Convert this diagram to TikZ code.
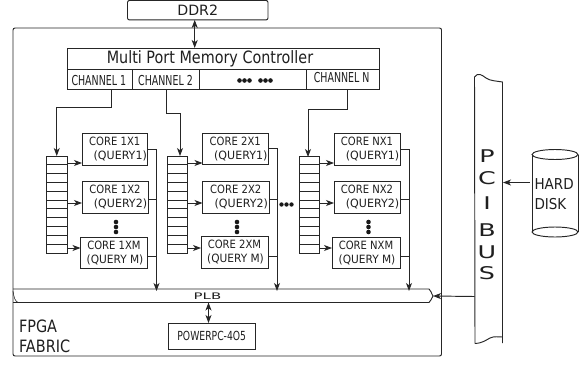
\documentclass[tikz,border=0pt]{standalone}
\usepackage{fontspec}
\setmainfont{DejaVu Sans}
\usetikzlibrary{arrows.meta,calc}
\tikzset{
 x=1pt,y=-1pt,
 every node/.style={inner sep=0pt,outer sep=0pt,text=black!88},
 ln/.style={draw=black!85,line width=0.95pt},
 boxn/.style={ln,minimum width=#1,minimum height=31.5pt,font=\fontsize{11.4}{14}\selectfont,align=center},
 fifo/.style={ln,minimum width=20.5pt,minimum height=97pt},
 conn/.style={ln,-{Stealth[length=8pt,width=6pt,inset=2.2pt]}},
 bi/.style={ln,{Stealth[length=8pt,width=6pt,inset=2.2pt]}-{Stealth[length=8pt,width=6pt,inset=2.2pt]}},
 vdot/.style={fill=black!90,draw=none},
 big/.style={font=\fontsize{17}{18}\selectfont,xscale=.85,transform shape},
 pcil/.style={font=\fontsize{17.5}{20}\selectfont,xscale=1.45,transform shape},
 chtxt/.style={font=\fontsize{13.7}{14}\selectfont,xscale=.69,transform shape},
 hdtxt/.style={font=\fontsize{15}{16}\selectfont,xscale=.9,transform shape,anchor=west},
}
\newcommand{\rowlines}[1]{\foreach \k in {1,...,10}{\draw[ln] ($(#1.north west)+(0,\k*8.818)$) -- ($(#1.north east)+(0,\k*8.818)$);}}
\newcommand{\cx}[1]{\scalebox{.88}[1]{#1}}
\newcommand{\qa}[1]{\hspace{11pt}\scalebox{.97}[1]{#1}}
\newcommand{\qb}[1]{\hspace{2pt}\scalebox{.93}[1]{#1}}
\begin{document}
\begin{tikzpicture}
\useasboundingbox (0,0) rectangle (586,364);
% frame
\node[ln,rounded corners=2pt,minimum width=428.5pt,minimum height=328pt] (fabric) at (227.25,192) {};
\node[ln,rounded corners=2pt,minimum width=140.5pt,minimum height=19.5pt,font=\fontsize{14.2}{15}\selectfont] (ddr) at (197.75,10.2) {DDR2};
% memory controller
\node[ln,minimum width=311.5pt,minimum height=21pt] (mem) at (223.25,58.5) {};
\node[font=\fontsize{17}{18}\selectfont,xscale=.845,transform shape] (memt) at (210,59) {Multi Port Memory Controller};
\node[ln,minimum width=65pt,minimum height=20pt] (ch1) at (100,79) {};
\node[ln,minimum width=67pt,minimum height=20pt] (ch2) at (166,79) {};
\node[ln,minimum width=107pt,minimum height=20pt] (chd) at (253,79) {};
\node[ln,minimum width=72.5pt,minimum height=20pt] (chn) at (342.75,79) {};
\node[chtxt] (ch1t) at (98.8,81) {CHANNEL 1};
\node[chtxt] (ch2t) at (165.5,81) {CHANNEL 2};
\node[chtxt] (chnt) at (341.7,77.5) {CHANNEL N};
\foreach \x in {239.5,244.5,249.5,260.5,265.5,270.5}{\fill[vdot] (\x,80.5) circle (2.3);}
\draw[bi] (ddr.south -| 194.7,0) -- (mem.north -| 194.7,0);
% fifos
\node[fifo] (f1) at (56.75,204.5) {}; \rowlines{f1}
\node[fifo] (f2) at (177.5,204.5) {}; \rowlines{f2}
\node[fifo] (f3) at (309.25,204.5) {}; \rowlines{f3}
% cores
\node[boxn=65.5pt] (c11) at (114.75,149.25) {\cx{CORE 1X1}\\\qa{(QUERY1)}};
\node[boxn=66pt] (c12) at (115,197.25) {\cx{CORE 1X2}\\\qa{(QUERY2)}};
\node[boxn=67pt] (c1m) at (114,252.75) {\cx{CORE 1XM}\\\qb{(QUERY M)}};
\node[boxn=65.5pt] (c21) at (235.25,148.75) {\cx{CORE 2X1}\\\qa{(QUERY1)}};
\node[boxn=66.5pt] (c22) at (235.75,197.25) {\cx{CORE 2X2}\\\qa{(QUERY2)}};
\node[boxn=67pt] (c2m) at (234.5,252.5) {\cx{CORE 2XM}\\\qb{(QUERY M)}};
\node[boxn=66pt] (c31) at (367,149.25) {\cx{CORE NX1}\\\qa{(QUERY1)}};
\node[boxn=66pt] (c32) at (367,197.25) {\cx{CORE NX2}\\\qa{(QUERY2)}};
\node[boxn=68pt] (c3m) at (366,253) {\cx{CORE NXM}\\\qb{(QUERY M)}};
% vertical dots
\foreach \x in {116,237,368.5}{\foreach \y in {222,227,232}{\fill[vdot] (\x,\y) circle (2.3);}}
\foreach \x in {281.5,286.5,291.5}{\fill[vdot] (\x,204.5) circle (2.2);}
% channels to fifos
\draw[conn] (ch1.south -| 111,0) |- (56.75,107) -- (f1.north);
\draw[conn] (ch2.south) |- (180,113.5) -- (180,156);
\draw[conn] (chn.south -| 347,0) |- (308,109) -- (308,157);
% fifos to cores
\foreach \f/\a/\b/\c in {f1/c11/c12/c1m,f2/c21/c22/c2m,f3/c31/c32/c3m}{
 \draw[conn] (\f.east |- 0,163) -- (\a.west |- 0,163);
 \draw[conn] (\f.east |- 0,203) -- (\b.west |- 0,203);
 \draw[conn] (\f.east |- 0,248) -- (\c.west |- 0,248);
}
% PLB
\coordinate (plbL) at (13,289);
\coordinate (plbR) at (429,289);
\coordinate (plbT) at (433,296);
\coordinate (plbB) at (429,302.5);
\coordinate (plbLb) at (13,302.5);
\draw[ln] (plbL) -- (plbR) .. controls (431,290) and (431,293) .. (plbT) .. controls (431,299) and (431,301) .. (plbB) -- (plbLb);
\draw[ln,line width=.6pt] (13,291) .. controls (14,298) and (15,301) .. (18,302.5);
\node[font=\fontsize{9}{10}\selectfont,xscale=1.66,transform shape] (plb) at (207.5,296.7) {PLB};
% core outputs to PLB
\foreach \x/\a/\b/\c in {156.5/c11/c12/c1m,277/c21/c22/c2m,409/c31/c32/c3m}{
 \draw[conn] (\a.east) -| (\x,291);
 \draw[ln] (\b.east |- 0,199) -- (\x,199);
 \draw[ln] (\c.east |- 0,256) -- (\x,256);
}
% PowerPC
\node[ln,minimum width=87.5pt,minimum height=26.5pt,font=\fontsize{12.5}{13}\selectfont] (ppc) at (211.75,336.25) {\scalebox{.74}[1]{POWERPC-4O5}};
\draw[bi] (208.5,302.5) -- (ppc.north -| 208.5,0);
\node[big,anchor=west] (fpga) at (19,326) {FPGA};
\node[big,anchor=west] (fab) at (19,346.5) {FABRIC};
% PCI bus
\coordinate (pciTL) at (474.5,77);
\coordinate (pciTR) at (502.5,82);
\coordinate (pciBL) at (475,343.5);
\coordinate (pciBR) at (502.5,343);
\draw[ln] (pciBL) -- (pciTL) .. controls (478,72) and (482,75) .. (486,78) .. controls (490,81) and (497,81) .. (pciTR) -- (pciBR);
\draw[ln] (pciBL) .. controls (483,343) and (486,340) .. (490,338) .. controls (494,336) and (498,337) .. (502.5,337);
\foreach \t/\y/\n in {P/156/lp,C/178.5/lc,I/203.5/li,B/230/lb,U/252/lu,S/273.5/ls}{\node[pcil] (\n) at (487,\y) {\t};}
\draw[conn] (474.5,296.5) -- (plbT);
% Hard disk
\coordinate (hdT) at (555,154.5);
\coordinate (hdB) at (555,232);
\draw[ln] (532,154.5) -- (532,232);
\draw[ln] (578,154.5) -- (578,232);
\draw[ln] (hdT) ellipse (23 and 5);
\draw[ln] (hdB) ellipse (23 and 5);
\node[hdtxt] (hd1) at (534.5,184.5) {HARD};
\node[hdtxt] (hd2) at (534.5,204) {DISK};
\coordinate (hdA) at (530,182.5);
\draw[conn] (hdA) -- (503,182.5);
\end{tikzpicture}
\end{document}
